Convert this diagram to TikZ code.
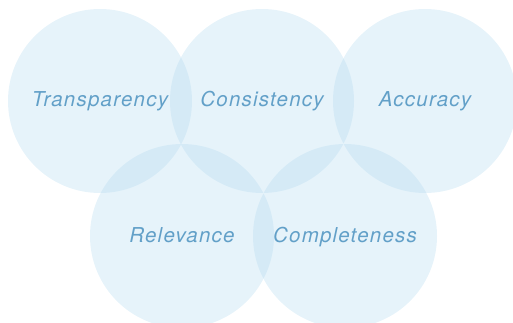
\documentclass[tikz,border=0pt]{standalone}
\usepackage{fontspec}
\setmainfont{TeX Gyre Heros}[LetterSpace=6]
\usepackage{tikz}
\usetikzlibrary{positioning}

\definecolor{ringfill}{RGB}{177,217,239}
\definecolor{ringtext}{RGB}{98,160,200}

\begin{document}
\begin{tikzpicture}[
    x=1pt, y=-1pt,
    ring/.style={circle, fill=ringfill, fill opacity=0.32, text opacity=1, minimum size=184pt, inner sep=0pt, text=ringtext, text height=15pt, text depth=3pt, font=\fontsize{20.5}{24}\selectfont\itshape}
]
\useasboundingbox (0,0) rectangle (513,323);

% Top row
\node[ring] (trans) at (100,101) {Transparency};
\node[ring] (cons) at (262,101) {Consistency};
\node[ring] (acc) at (425,101) {Accuracy};

% Bottom row
\node[ring] (rel) at (182,236) {Relevance};
\node[ring] (comp) at (345,236) {Completeness};
\end{tikzpicture}
\end{document}
